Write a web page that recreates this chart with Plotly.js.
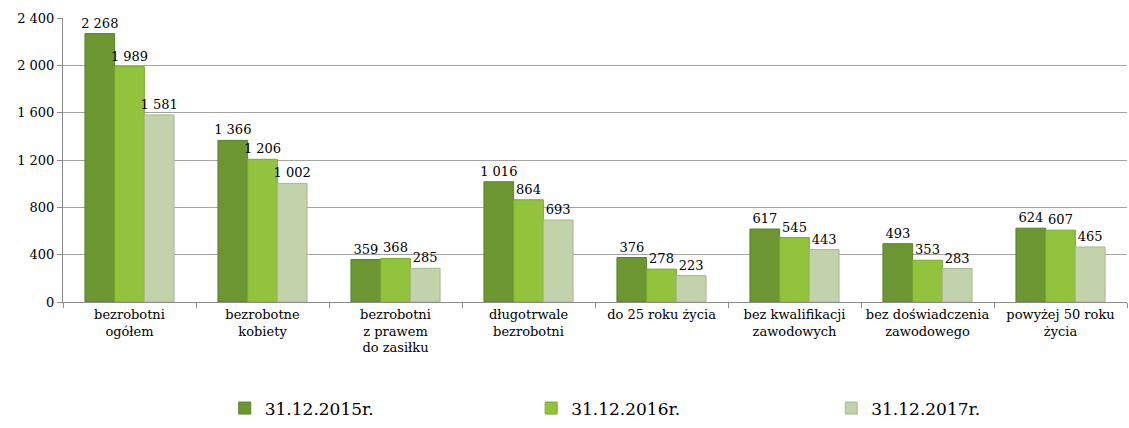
<!DOCTYPE html>
<html>
<head>
<meta charset="utf-8">
<script src="https://cdn.plot.ly/plotly-3.0.1.min.js"></script>
<style>html,body{margin:0;padding:0;background:#fff;}#chart{width:1129px;height:428px;}</style>
</head>
<body>
<div id="chart"></div>
<script>
const categories = [
  "bezrobotni<br>ogółem",
  "bezrobotne<br>kobiety",
  "bezrobotni<br>z prawem<br>do zasiłku",
  "długotrwale<br>bezrobotni",
  "do 25 roku życia",
  "bez kwalifikacji<br>zawodowych",
  "bez doświadczenia<br>zawodowego",
  "powyżej 50 roku<br>życia"
];
const seriesNames = ["31.12.2015r.", "31.12.2016r.", "31.12.2017r."];
const values2015 = [2268, 1366, 359, 1016, 376, 617, 493, 624];
const values2016 = [1989, 1206, 368, 864, 278, 545, 353, 607];
const values2017 = [1581, 1002, 285, 693, 223, 443, 283, 465];
const yTicks = [0, 400, 800, 1200, 1600, 2000, 2400];

const colors = ["#6b9631", "#91c33d", "#c2d2aa"];
const lineColors = ["#5a8226", "#7aa92e", "#a7b98e"];
const allValues = [values2015, values2016, values2017];
const legendIds = ["legend", "legend2", "legend3"];
const legendX = [0.152, 0.440, 0.722];

const font = "DejaVu Serif, Liberation Serif, serif";

const traces = allValues.map((vals, i) => ({
  type: "bar",
  name: seriesNames[i],
  legend: legendIds[i],
  x: categories,
  y: vals,
  marker: {color: colors[i], line: {color: lineColors[i], width: 1}},
  texttemplate: "%{y:,d}",
  textposition: "outside",
  constraintext: "none",
  cliponaxis: false,
  textfont: {family: font, size: 13, color: "#000"}
}));

const layout = {
  width: 1129, height: 428,
  margin: {l: 63, r: 2, t: 18, b: 126},
  separators: ", ",
  barmode: "group",
  bargap: 0.33,
  bargroupgap: 0,
  paper_bgcolor: "#fff",
  plot_bgcolor: "#fff",
  font: {family: font, size: 13, color: "#000"},
  showlegend: true,
  xaxis: {
    type: "category",
    showgrid: false,
    showline: true, linecolor: "#8c8c8c", linewidth: 1,
    ticks: "outside", tickson: "boundaries", ticklen: 5, tickcolor: "#8c8c8c",
    tickfont: {family: font, size: 13, color: "#000"},
    automargin: false
  },
  yaxis: {
    range: [0, 2400],
    tickvals: yTicks,
    tickformat: ",d",
    showgrid: true, gridcolor: "#a3a3a3", gridwidth: 1,
    showline: true, linecolor: "#8c8c8c", linewidth: 1,
    ticks: "outside", ticklen: 5, tickcolor: "#8c8c8c",
    zeroline: false,
    tickfont: {family: font, size: 13, color: "#000"},
    automargin: false
  }
};
legendIds.forEach((id, i) => {
  layout[id] = {
    orientation: "h", x: legendX[i], xanchor: "left", y: -0.375, yanchor: "middle",
    font: {family: font, size: 17, color: "#000"},
    itemwidth: 30, bgcolor: "rgba(0,0,0,0)"
  };
});

Plotly.newPlot("chart", traces, layout, {displayModeBar: false, staticPlot: true});
</script>
</body>
</html>
